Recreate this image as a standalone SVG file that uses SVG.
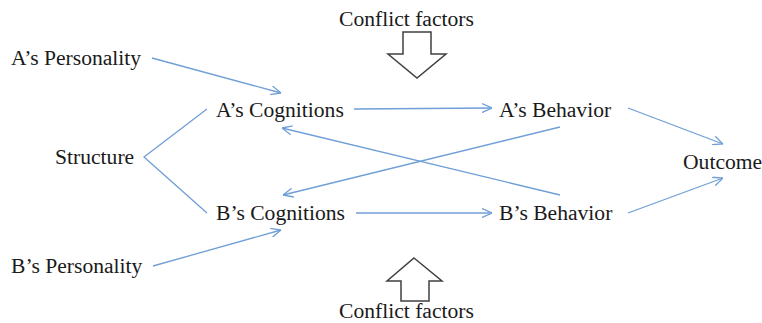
<svg xmlns="http://www.w3.org/2000/svg" width="762" height="323" viewBox="0 0 762 323">
  <style>
    text { font-family: "Liberation Serif", "Times New Roman", serif; font-size: 21.6px; fill: #1a1a1a; }
    .link { stroke: #6f9fd6; stroke-width: 1.3; fill: none; }
    .block { fill: #ffffff; stroke: #404040; stroke-width: 1.5; stroke-linejoin: miter; }
  </style>
  <defs>
    <marker id="open" viewBox="0 0 10 10" refX="10" refY="5" markerWidth="10" markerHeight="10" markerUnits="userSpaceOnUse" orient="auto">
      <path d="M0,0.5 L10,5 L0,9.5" fill="none" stroke="#6f9fd6" stroke-width="1.3"/>
    </marker>
  </defs>

  <!-- external pressure arrows -->
  <g id="conflict-top">
    <text x="339" y="26">Conflict factors</text>
    <path class="block" d="M403,32 H431 V54 H446 L417,78 L388,54 H403 Z"/>
  </g>
  <g id="conflict-bottom">
    <path class="block" d="M414,258 L442,281 H429 V301 H401 V281 H387 Z"/>
    <text x="339" y="318">Conflict factors</text>
  </g>

  <g id="a-personality"><text x="11" y="65">A’s Personality</text></g>
  <g id="b-personality"><text x="11" y="273">B’s Personality</text></g>
  <g id="structure"><text x="55" y="164">Structure</text></g>
  <g id="a-cognitions"><text x="216" y="117">A’s Cognitions</text></g>
  <g id="b-cognitions"><text x="216" y="220">B’s Cognitions</text></g>
  <g id="a-behavior"><text x="499" y="117">A’s Behavior</text></g>
  <g id="b-behavior"><text x="499" y="220">B’s Behavior</text></g>
  <g id="outcome"><text x="683" y="169">Outcome</text></g>

  <g id="connectors">
    <line class="link" x1="152" y1="58" x2="281" y2="93" marker-end="url(#open)"/>
    <line class="link" x1="153" y1="266" x2="281" y2="230" marker-end="url(#open)"/>
    <polyline class="link" points="207,109 144,157 207,213"/>
    <line class="link" x1="354" y1="109" x2="492" y2="108" marker-end="url(#open)"/>
    <line class="link" x1="356" y1="213" x2="492" y2="213" marker-end="url(#open)"/>
    <line class="link" x1="560" y1="195" x2="282" y2="128" marker-end="url(#open)"/>
    <line class="link" x1="560" y1="127" x2="283" y2="195" marker-end="url(#open)"/>
    <line class="link" x1="628" y1="108" x2="723" y2="144" marker-end="url(#open)"/>
    <line class="link" x1="628" y1="213" x2="723" y2="178" marker-end="url(#open)"/>
  </g>
</svg>
